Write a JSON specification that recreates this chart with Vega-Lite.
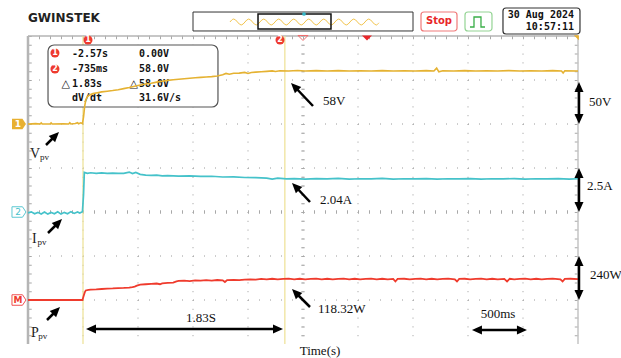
{
  "$schema": "https://vega.github.io/schema/vega-lite/v6.json",
  "width": 550,
  "height": 308,
  "autosize": {"type": "none"},
  "padding": {"left": 28, "top": 36, "right": 43, "bottom": 14},
  "background": "white",
  "config": {"view": {"stroke": null}},
  "datasets": {
    "vpv": [
      {"t":-3.07,"v":0},{"t":-3.0,"v":0.4},{"t":-2.96,"v":0},{"t":-2.95,"v":1.2},{"t":-2.94,"v":0},{"t":-2.87,"v":0},{"t":-2.86,"v":1.3},{"t":-2.85,"v":0},{"t":-2.75,"v":0.3},{"t":-2.7,"v":0},{"t":-2.69,"v":1.4},{"t":-2.68,"v":0},{"t":-2.64,"v":0.5},{"t":-2.62,"v":1.5},{"t":-2.61,"v":0.2},{"t":-2.59,"v":1.3},{"t":-2.575,"v":0.4},{"t":-2.565,"v":8},{"t":-2.555,"v":20},{"t":-2.545,"v":27},{"t":-2.53,"v":31},{"t":-2.51,"v":33},{"t":-2.48,"v":34.5},{"t":-2.44,"v":35.5},{"t":-2.4,"v":36.5},{"t":-2.35,"v":37.2},{"t":-2.3,"v":38},{"t":-2.25,"v":39},{"t":-2.2,"v":40.2},{"t":-2.15,"v":41.5},{"t":-2.1,"v":43},{"t":-2.05,"v":44.3},{"t":-2.0,"v":45.5},{"t":-1.95,"v":46.4},{"t":-1.9,"v":47.6},{"t":-1.85,"v":48.6},{"t":-1.8,"v":49.6},{"t":-1.75,"v":50.2},{"t":-1.7,"v":50.8},{"t":-1.65,"v":51.5},{"t":-1.6,"v":52},{"t":-1.55,"v":52.5},{"t":-1.5,"v":53},{"t":-1.45,"v":53.4},{"t":-1.4,"v":53.8},{"t":-1.35,"v":54.5},{"t":-1.3,"v":56},{"t":-1.27,"v":57.5},{"t":-1.24,"v":56.6},{"t":-1.2,"v":57.6},{"t":-1.15,"v":57.8},{"t":-1.1,"v":58.6},{"t":-1.07,"v":57.4},{"t":-1.04,"v":58.6},{"t":-1.0,"v":58.9},{"t":-0.95,"v":59.3},{"t":-0.9,"v":59.8},{"t":-0.85,"v":60.4},{"t":-0.82,"v":59.6},{"t":-0.78,"v":60.5},{"t":-0.7,"v":60.3},{"t":-0.62,"v":60.8},{"t":-0.55,"v":60.2},{"t":-0.45,"v":60.6},{"t":-0.35,"v":60.3},{"t":-0.25,"v":60.7},{"t":-0.15,"v":60.2},{"t":-0.05,"v":60.5},{"t":0.05,"v":60.2},{"t":0.15,"v":60.6},{"t":0.25,"v":60.3},{"t":0.35,"v":60.5},{"t":0.45,"v":60.2},{"t":0.55,"v":60.6},{"t":0.62,"v":60.3},{"t":0.645,"v":63.5},{"t":0.665,"v":59.3},{"t":0.7,"v":60.5},{"t":0.8,"v":60.2},{"t":0.9,"v":60.6},{"t":1.0,"v":60.3},{"t":1.1,"v":60.5},{"t":1.2,"v":60.2},{"t":1.3,"v":60.6},{"t":1.4,"v":60.3},{"t":1.5,"v":60.5},{"t":1.6,"v":60.2},{"t":1.7,"v":60.6},{"t":1.78,"v":60.3},{"t":1.795,"v":58},{"t":1.81,"v":60.4},{"t":1.93,"v":60.3}
    ],
    "ipv": [
      {"t":-3.07,"a":-0.05},{"t":-3.04,"a":0.01},{"t":-3.01,"a":-0.1},{"t":-2.98,"a":-0.02},{"t":-2.95,"a":-0.11},{"t":-2.92,"a":0.0},{"t":-2.89,"a":-0.12},{"t":-2.86,"a":-0.03},{"t":-2.83,"a":-0.1},{"t":-2.8,"a":0.01},{"t":-2.77,"a":-0.12},{"t":-2.74,"a":-0.02},{"t":-2.71,"a":-0.1},{"t":-2.68,"a":0.02},{"t":-2.65,"a":-0.08},{"t":-2.62,"a":0.0},{"t":-2.6,"a":-0.06},{"t":-2.575,"a":0.02},{"t":-2.565,"a":1.0},{"t":-2.558,"a":2.25},{"t":-2.53,"a":2.2},{"t":-2.5,"a":2.23},{"t":-2.45,"a":2.19},{"t":-2.4,"a":2.22},{"t":-2.35,"a":2.2},{"t":-2.3,"a":2.21},{"t":-2.25,"a":2.19},{"t":-2.2,"a":2.2},{"t":-2.15,"a":2.27},{"t":-2.12,"a":2.18},{"t":-2.09,"a":2.25},{"t":-2.05,"a":2.14},{"t":-2.0,"a":2.1},{"t":-1.95,"a":2.08},{"t":-1.9,"a":2.1},{"t":-1.85,"a":2.05},{"t":-1.8,"a":2.07},{"t":-1.7,"a":2.04},{"t":-1.6,"a":2.05},{"t":-1.5,"a":2.02},{"t":-1.4,"a":2.03},{"t":-1.3,"a":1.99},{"t":-1.2,"a":2.0},{"t":-1.1,"a":1.96},{"t":-1.0,"a":1.95},{"t":-0.9,"a":1.92},{"t":-0.85,"a":1.87},{"t":-0.8,"a":1.92},{"t":-0.72,"a":1.88},{"t":-0.65,"a":1.9},{"t":-0.55,"a":1.87},{"t":-0.45,"a":1.9},{"t":-0.35,"a":1.88},{"t":-0.25,"a":1.91},{"t":-0.15,"a":1.87},{"t":-0.05,"a":1.89},{"t":0.05,"a":1.88},{"t":0.15,"a":1.91},{"t":0.25,"a":1.87},{"t":0.35,"a":1.89},{"t":0.45,"a":1.88},{"t":0.55,"a":1.9},{"t":0.65,"a":1.87},{"t":0.75,"a":1.89},{"t":0.85,"a":1.88},{"t":0.95,"a":1.9},{"t":1.05,"a":1.87},{"t":1.15,"a":1.89},{"t":1.25,"a":1.88},{"t":1.35,"a":1.9},{"t":1.45,"a":1.87},{"t":1.55,"a":1.89},{"t":1.65,"a":1.88},{"t":1.75,"a":1.9},{"t":1.85,"a":1.87},{"t":1.93,"a":1.89}
    ],
    "ppv": [
      {"t":-3.07,"w":0},{"t":-2.575,"w":0},{"t":-2.565,"w":20},{"t":-2.555,"w":40},{"t":-2.545,"w":52},{"t":-2.52,"w":55},{"t":-2.5,"w":57},{"t":-2.45,"w":58},{"t":-2.4,"w":60},{"t":-2.35,"w":62},{"t":-2.3,"w":63},{"t":-2.25,"w":65},{"t":-2.2,"w":66},{"t":-2.15,"w":68},{"t":-2.12,"w":70},{"t":-2.1,"w":73},{"t":-2.08,"w":78},{"t":-2.05,"w":84},{"t":-2.0,"w":86},{"t":-1.95,"w":88},{"t":-1.9,"w":90},{"t":-1.87,"w":86},{"t":-1.85,"w":91},{"t":-1.8,"w":93},{"t":-1.75,"w":95},{"t":-1.72,"w":102},{"t":-1.7,"w":104},{"t":-1.65,"w":106},{"t":-1.6,"w":103},{"t":-1.55,"w":107},{"t":-1.5,"w":106},{"t":-1.45,"w":108},{"t":-1.4,"w":106},{"t":-1.35,"w":109},{"t":-1.3,"w":107},{"t":-1.28,"w":98},{"t":-1.26,"w":109},{"t":-1.2,"w":110},{"t":-1.15,"w":108},{"t":-1.1,"w":111},{"t":-1.05,"w":113},{"t":-1.0,"w":111},{"t":-0.95,"w":115},{"t":-0.9,"w":112},{"t":-0.85,"w":116},{"t":-0.8,"w":113},{"t":-0.75,"w":115},{"t":-0.7,"w":117},{"t":-0.65,"w":113},{"t":-0.6,"w":116},{"t":-0.55,"w":112},{"t":-0.5,"w":115},{"t":-0.45,"w":117},{"t":-0.4,"w":113},{"t":-0.35,"w":116},{"t":-0.3,"w":112},{"t":-0.25,"w":115},{"t":-0.2,"w":117},{"t":-0.15,"w":113},{"t":-0.1,"w":116},{"t":-0.05,"w":112},{"t":0.0,"w":115},{"t":0.05,"w":117},{"t":0.1,"w":113},{"t":0.15,"w":116},{"t":0.2,"w":113},{"t":0.25,"w":115},{"t":0.27,"w":101},{"t":0.29,"w":115},{"t":0.35,"w":116},{"t":0.4,"w":112},{"t":0.45,"w":115},{"t":0.5,"w":117},{"t":0.55,"w":113},{"t":0.6,"w":116},{"t":0.65,"w":112},{"t":0.7,"w":115},{"t":0.75,"w":117},{"t":0.81,"w":113},{"t":0.83,"w":101},{"t":0.85,"w":115},{"t":0.9,"w":116},{"t":0.95,"w":112},{"t":1.0,"w":115},{"t":1.05,"w":117},{"t":1.1,"w":113},{"t":1.15,"w":116},{"t":1.2,"w":112},{"t":1.26,"w":115},{"t":1.285,"w":101},{"t":1.31,"w":116},{"t":1.35,"w":113},{"t":1.4,"w":115},{"t":1.45,"w":117},{"t":1.5,"w":113},{"t":1.55,"w":116},{"t":1.6,"w":112},{"t":1.65,"w":115},{"t":1.7,"w":117},{"t":1.77,"w":113},{"t":1.79,"w":101},{"t":1.81,"w":115},{"t":1.86,"w":116},{"t":1.93,"w":114}
    ]
  },
  "encoding": {
    "x": {"field": "t", "type": "quantitative", "scale": {"domain": [-3.07, 1.93], "nice": false, "zero": false}, "axis": null}
  },
  "layer": [
    {"data": {"values": [{"t":-2.57},{"t":-2.07},{"t":-1.57},{"t":-1.07},{"t":-0.57},{"t":-0.07},{"t":0.43},{"t":0.93},{"t":1.43}]},
     "mark": {"type": "rule", "color": "#9a9a9a", "strokeWidth": 1, "strokeDash": [1, 7.8]}, "encoding": {}},
    {"data": {"values": [{"t":-3.07,"t2":1.93,"d":1},{"t":-3.07,"t2":1.93,"d":2},{"t":-3.07,"t2":1.93,"d":3},{"t":-3.07,"t2":1.93,"d":4},{"t":-3.07,"t2":1.93,"d":5},{"t":-3.07,"t2":1.93,"d":6}]},
     "mark": {"type": "rule", "color": "#9a9a9a", "strokeWidth": 1, "strokeDash": [1, 10]},
     "encoding": {"x2": {"field": "t2"}, "y": {"field": "d", "type": "quantitative", "scale": {"domain": [0, 7], "nice": false, "zero": false}, "axis": null}}},
    {"data": {"values": [{"t":-0.57},{"t":-3.0518},{"t":1.9164}]},
     "mark": {"type": "rule", "color": "#a8a8a8", "strokeWidth": 3.5, "strokeDash": [1, 7.8]}, "encoding": {}},
    {"data": {"values": [{"t":-3.07,"t2":1.93,"d":3},{"t":-3.07,"t2":1.93,"d":6.966}]},
     "mark": {"type": "rule", "color": "#a8a8a8", "strokeWidth": 3.5, "strokeDash": [1, 10]},
     "encoding": {"x2": {"field": "t2"}, "y": {"field": "d", "type": "quantitative", "scale": {"domain": [0, 7], "nice": false, "zero": false}, "axis": null}}},
    {"data": {"values": [{"t":-3.07}]},
     "mark": {"type": "rule", "color": "#b5b5b5", "strokeWidth": 2.5}, "encoding": {}},
    {"data": {"values": [{"t":1.93}]},
     "mark": {"type": "rule", "color": "#c4c4c4", "strokeWidth": 1.5}, "encoding": {}},
    {"data": {"values": [{"t":-3.07,"t2":1.93,"d":7}]},
     "mark": {"type": "rule", "color": "#b5b5b5", "strokeWidth": 1.5},
     "encoding": {"x2": {"field": "t2"}, "y": {"field": "d", "type": "quantitative", "scale": {"domain": [0, 7], "nice": false, "zero": false}, "axis": null}}},
    {"data": {"values": [{"t":-2.57},{"t":-0.735}]},
     "mark": {"type": "rule", "color": "#efe39c", "strokeWidth": 1.3}, "encoding": {}},
    {"data": {"values": [{"t":-2.888,"t2":-1.343,"d":6.795,"d2":5.386}]},
     "mark": {"type": "rect", "fill": "white", "stroke": "#555555", "strokeWidth": 1.2, "cornerRadius": 6, "clip": false},
     "encoding": {"x2": {"field": "t2"}, "y": {"field": "d", "type": "quantitative", "scale": {"domain": [0, 7], "nice": false, "zero": false}, "axis": null}, "y2": {"field": "d2"}}},
    {"data": {"name": "ipv"},
     "mark": {"type": "line", "color": "#45c2ca", "strokeWidth": 1.7, "clip": false},
     "encoding": {"y": {"field": "a", "type": "quantitative", "scale": {"domain": [-7.5, 10], "nice": false, "zero": false}, "axis": null}}},
    {"data": {"name": "ppv"},
     "mark": {"type": "line", "color": "#ef3b2d", "strokeWidth": 1.8, "clip": false},
     "encoding": {"y": {"field": "w", "type": "quantitative", "scale": {"domain": [-240, 1440], "nice": false, "zero": false}, "axis": null}}},
    {"data": {"values": [
       {"t":-2.67,"d":6.602,"label":"-2.57s"},{"t":-2.061,"d":6.602,"label":"0.00V"},
       {"t":-2.67,"d":6.261,"label":"-735ms"},{"t":-2.061,"d":6.261,"label":"58.0V"},
       {"t":-2.67,"d":5.92,"label":"1.83s"},{"t":-2.061,"d":5.92,"label":"58.0V"},
       {"t":-2.67,"d":5.58,"label":"dV/dt"},{"t":-2.061,"d":5.58,"label":"31.6V/s"}]},
     "mark": {"type": "text", "font": "DejaVu Sans Mono", "fontWeight": "bold", "fontSize": 10, "align": "left", "baseline": "middle", "color": "#111111", "clip": false},
     "encoding": {"y": {"field": "d", "type": "quantitative", "scale": {"domain": [0, 7], "nice": false, "zero": false}, "axis": null}, "text": {"field": "label"}}},
    {"data": {"values": [{"t":-2.727,"d":5.92,"label":"△"},{"t":-2.109,"d":5.92,"label":"△"}]},
     "mark": {"type": "text", "font": "DejaVu Sans", "fontSize": 11, "align": "center", "baseline": "middle", "color": "#111111", "clip": false},
     "encoding": {"y": {"field": "d", "type": "quantitative", "scale": {"domain": [0, 7], "nice": false, "zero": false}, "axis": null}, "text": {"field": "label"}}},
    {"data": {"name": "vpv"},
     "mark": {"type": "line", "color": "#e5b232", "strokeWidth": 1.6, "clip": false},
     "encoding": {"y": {"field": "v", "type": "quantitative", "scale": {"domain": [-250, 100], "nice": false, "zero": false}, "axis": null}}},
    {"data": {"values": [{"t":-2.5245,"d":6.909},{"t":-0.779,"d":6.909},{"t":-2.825,"d":6.614},{"t":-2.825,"d":6.25}]},
     "mark": {"type": "point", "shape": "circle", "filled": true, "color": "#ee3a2e", "size": 81, "opacity": 1, "clip": false},
     "encoding": {"y": {"field": "d", "type": "quantitative", "scale": {"domain": [0, 7], "nice": false, "zero": false}, "axis": null}}},
    {"data": {"values": [{"t":-2.5245,"d":6.909,"label":"1"},{"t":-0.779,"d":6.909,"label":"2"},{"t":-2.825,"d":6.614,"label":"1"},{"t":-2.825,"d":6.25,"label":"2"}]},
     "mark": {"type": "text", "font": "DejaVu Sans", "fontWeight": "bold", "fontSize": 8, "align": "center", "baseline": "middle", "color": "white", "clip": false},
     "encoding": {"y": {"field": "d", "type": "quantitative", "scale": {"domain": [0, 7], "nice": false, "zero": false}, "axis": null}, "text": {"field": "label"}}},
    {"data": {"values": [{"t":-0.57,"d":6.955}]},
     "mark": {"type": "point", "shape": "M-1,-0.5L1,-0.5L0,0.5Z", "filled": false, "stroke": "#f06a6a", "strokeWidth": 1, "size": 100, "opacity": 1, "clip": false},
     "encoding": {"y": {"field": "d", "type": "quantitative", "scale": {"domain": [0, 7], "nice": false, "zero": false}, "axis": null}}},
    {"data": {"values": [{"t":0.0118,"d":6.955}]},
     "mark": {"type": "point", "shape": "M-1,-0.5L1,-0.5L0,0.5Z", "filled": true, "color": "#e8262a", "size": 100, "opacity": 1, "clip": false},
     "encoding": {"y": {"field": "d", "type": "quantitative", "scale": {"domain": [0, 7], "nice": false, "zero": false}, "axis": null}}},
    {"data": {"values": [{"t":1.915,"d":6.96}]},
     "mark": {"type": "point", "shape": "M-1,-1L1,-1L1,1Z", "filled": true, "color": "#e8b030", "size": 25, "opacity": 1, "clip": false},
     "encoding": {"y": {"field": "d", "type": "quantitative", "scale": {"domain": [0, 7], "nice": false, "zero": false}, "axis": null}}},
    {"data": {"values": [{"t":-1.57,"t2":0.43,"d":7.545,"d2":7.114}]},
     "mark": {"type": "rect", "fill": "white", "stroke": "#333333", "strokeWidth": 1, "clip": false},
     "encoding": {"x2": {"field": "t2"}, "y": {"field": "d", "type": "quantitative", "scale": {"domain": [0, 7], "nice": false, "zero": false}, "axis": null}, "y2": {"field": "d2"}}},
    {"data": {"values": [
       {"t":-1.234,"d":7.318},{"t":-1.2,"d":7.386},{"t":-1.1317,"d":7.25},{"t":-1.0635,"d":7.386},{"t":-0.9953,"d":7.25},{"t":-0.9271,"d":7.386},{"t":-0.8589,"d":7.25},{"t":-0.7907,"d":7.386},{"t":-0.7225,"d":7.25},{"t":-0.6543,"d":7.386},{"t":-0.5861,"d":7.25},{"t":-0.5179,"d":7.386},{"t":-0.4497,"d":7.25},{"t":-0.3815,"d":7.386},{"t":-0.3133,"d":7.25},{"t":-0.2451,"d":7.386},{"t":-0.1769,"d":7.25},{"t":-0.1087,"d":7.386},{"t":-0.0405,"d":7.25},{"t":0.0277,"d":7.386},{"t":0.0959,"d":7.25},{"t":0.12,"d":7.3}]},
     "mark": {"type": "line", "color": "#f2c44e", "strokeWidth": 1, "interpolate": "monotone", "clip": false},
     "encoding": {"y": {"field": "d", "type": "quantitative", "scale": {"domain": [0, 7], "nice": false, "zero": false}, "axis": null}}},
    {"data": {"values": [{"t":-0.979,"t2":-0.3155,"d":7.5,"d2":7.159}]},
     "mark": {"type": "rect", "fillOpacity": 0, "stroke": "#111111", "strokeWidth": 1.5, "clip": false},
     "encoding": {"x2": {"field": "t2"}, "y": {"field": "d", "type": "quantitative", "scale": {"domain": [0, 7], "nice": false, "zero": false}, "axis": null}, "y2": {"field": "d2"}}},
    {"data": {"values": [{"t":-0.561,"d":7.5}]},
     "mark": {"type": "point", "shape": "circle", "filled": true, "color": "#35b8c8", "size": 14, "opacity": 1, "clip": false},
     "encoding": {"y": {"field": "d", "type": "quantitative", "scale": {"domain": [0, 7], "nice": false, "zero": false}, "axis": null}}},
    {"data": {"values": [{"t":0.5027,"t2":0.83,"d":7.545,"d2":7.114}]},
     "mark": {"type": "rect", "fill": "white", "stroke": "#f07a7a", "strokeWidth": 1.2, "cornerRadius": 3, "clip": false},
     "encoding": {"x2": {"field": "t2"}, "y": {"field": "d", "type": "quantitative", "scale": {"domain": [0, 7], "nice": false, "zero": false}, "axis": null}, "y2": {"field": "d2"}}},
    {"data": {"values": [{"t":0.9027,"t2":1.148,"d":7.545,"d2":7.114}]},
     "mark": {"type": "rect", "fill": "white", "stroke": "#94d494", "strokeWidth": 1.2, "cornerRadius": 3, "clip": false},
     "encoding": {"x2": {"field": "t2"}, "y": {"field": "d", "type": "quantitative", "scale": {"domain": [0, 7], "nice": false, "zero": false}, "axis": null}, "y2": {"field": "d2"}}},
    {"data": {"values": [{"i":0,"t":0.948,"d":7.205},{"i":1,"t":0.9845,"d":7.205},{"i":2,"t":0.9845,"d":7.432},{"i":3,"t":1.048,"d":7.432},{"i":4,"t":1.048,"d":7.205},{"i":5,"t":1.0845,"d":7.205}]},
     "mark": {"type": "line", "color": "#3aae48", "strokeWidth": 1.3, "clip": false},
     "encoding": {"y": {"field": "d", "type": "quantitative", "scale": {"domain": [0, 7], "nice": false, "zero": false}, "axis": null}, "order": {"field": "i", "type": "quantitative"}}},
    {"data": {"values": [{"t":1.248,"t2":1.948,"d":7.636,"d2":7.045}]},
     "mark": {"type": "rect", "fill": "white", "stroke": "#333333", "strokeWidth": 1.2, "cornerRadius": 3, "clip": false},
     "encoding": {"x2": {"field": "t2"}, "y": {"field": "d", "type": "quantitative", "scale": {"domain": [0, 7], "nice": false, "zero": false}, "axis": null}, "y2": {"field": "d2"}}},
    {"data": {"values": [{"t":-3.07,"d":7.409,"label":"GWINSTEK"}]},
     "mark": {"type": "text", "font": "DejaVu Sans", "fontWeight": "bold", "fontSize": 12, "align": "left", "baseline": "middle", "color": "#222222", "clip": false},
     "encoding": {"y": {"field": "d", "type": "quantitative", "scale": {"domain": [0, 7], "nice": false, "zero": false}, "axis": null}, "text": {"field": "label"}}},
    {"data": {"values": [{"t":0.666,"d":7.33,"label":"Stop"}]},
     "mark": {"type": "text", "font": "DejaVu Sans", "fontWeight": "bold", "fontSize": 10, "align": "center", "baseline": "middle", "color": "#e8262a", "clip": false},
     "encoding": {"y": {"field": "d", "type": "quantitative", "scale": {"domain": [0, 7], "nice": false, "zero": false}, "axis": null}, "text": {"field": "label"}}},
    {"data": {"values": [{"t":1.8936,"d":7.477,"label":"30 Aug 2024"},{"t":1.8936,"d":7.205,"label":"10:57:11"}]},
     "mark": {"type": "text", "font": "DejaVu Sans Mono", "fontWeight": "bold", "fontSize": 10, "align": "right", "baseline": "middle", "color": "#111111", "clip": false},
     "encoding": {"y": {"field": "d", "type": "quantitative", "scale": {"domain": [0, 7], "nice": false, "zero": false}, "axis": null}, "text": {"field": "label"}}},
    {"data": {"values": [{"t":-3.152,"d":5}]},
     "mark": {"type": "point", "shape": "M-1,-0.75L0.5,-0.75L1,0L0.5,0.75L-1,0.75Z", "filled": true, "color": "#e8b030", "size": 196, "opacity": 1, "clip": false},
     "encoding": {"y": {"field": "d", "type": "quantitative", "scale": {"domain": [0, 7], "nice": false, "zero": false}, "axis": null}}},
    {"data": {"values": [{"t":-3.152,"d":3}]},
     "mark": {"type": "point", "shape": "M-1,-0.75L0.5,-0.75L1,0L0.5,0.75L-1,0.75Z", "filled": true, "fill": "white", "stroke": "#5cc8d2", "strokeWidth": 1, "size": 196, "opacity": 1, "clip": false},
     "encoding": {"y": {"field": "d", "type": "quantitative", "scale": {"domain": [0, 7], "nice": false, "zero": false}, "axis": null}}},
    {"data": {"values": [{"t":-3.152,"d":1}]},
     "mark": {"type": "point", "shape": "M-1,-0.75L0.5,-0.75L1,0L0.5,0.75L-1,0.75Z", "filled": true, "fill": "white", "stroke": "#f05050", "strokeWidth": 1, "size": 196, "opacity": 1, "clip": false},
     "encoding": {"y": {"field": "d", "type": "quantitative", "scale": {"domain": [0, 7], "nice": false, "zero": false}, "axis": null}}},
    {"data": {"values": [{"t":-3.161,"d":5,"label":"1"}]},
     "mark": {"type": "text", "font": "DejaVu Sans", "fontWeight": "bold", "fontSize": 9, "align": "center", "baseline": "middle", "color": "white", "clip": false},
     "encoding": {"y": {"field": "d", "type": "quantitative", "scale": {"domain": [0, 7], "nice": false, "zero": false}, "axis": null}, "text": {"field": "label"}}},
    {"data": {"values": [{"t":-3.161,"d":3,"label":"2"}]},
     "mark": {"type": "text", "font": "DejaVu Sans", "fontSize": 9, "align": "center", "baseline": "middle", "color": "#45c2ca", "clip": false},
     "encoding": {"y": {"field": "d", "type": "quantitative", "scale": {"domain": [0, 7], "nice": false, "zero": false}, "axis": null}, "text": {"field": "label"}}},
    {"data": {"values": [{"t":-3.161,"d":1,"label":"M"}]},
     "mark": {"type": "text", "font": "DejaVu Sans", "fontWeight": "bold", "fontSize": 9, "align": "center", "baseline": "middle", "color": "#ef3b2d", "clip": false},
     "encoding": {"y": {"field": "d", "type": "quantitative", "scale": {"domain": [0, 7], "nice": false, "zero": false}, "axis": null}, "text": {"field": "label"}}},
    {"data": {"values": [{"t":-3.052,"d":4.227,"label":"V"},{"t":-3.0336,"d":2.295,"label":"I"},{"t":-3.0427,"d":0.159,"label":"P"}]},
     "mark": {"type": "text", "font": "Liberation Serif", "fontSize": 14, "align": "left", "baseline": "alphabetic", "color": "#222222", "clip": false},
     "encoding": {"y": {"field": "d", "type": "quantitative", "scale": {"domain": [0, 7], "nice": false, "zero": false}, "axis": null}, "text": {"field": "label"}}},
    {"data": {"values": [{"t":-2.961,"d":4.182,"label":"pv"},{"t":-2.9836,"d":2.25,"label":"pv"},{"t":-2.976,"d":0.114,"label":"pv"}]},
     "mark": {"type": "text", "font": "Liberation Serif", "fontSize": 9, "align": "left", "baseline": "alphabetic", "color": "#222222", "clip": false},
     "encoding": {"y": {"field": "d", "type": "quantitative", "scale": {"domain": [0, 7], "nice": false, "zero": false}, "axis": null}, "text": {"field": "label"}}},
    {"data": {"values": [{"t":-0.3882,"d":5.432,"label":"58V"},{"t":-0.4155,"d":3.182,"label":"2.04A"},{"t":-0.4336,"d":0.7045,"label":"118.32W"},{"t":2.03,"d":5.409,"label":"50V"},{"t":2.0118,"d":3.5,"label":"2.5A"},{"t":2.039,"d":1.477,"label":"240W"}]},
     "mark": {"type": "text", "font": "Liberation Serif", "fontSize": 13, "align": "left", "baseline": "alphabetic", "color": "#111111", "clip": false},
     "encoding": {"y": {"field": "d", "type": "quantitative", "scale": {"domain": [0, 7], "nice": false, "zero": false}, "axis": null}, "text": {"field": "label"}}},
    {"data": {"values": [{"t":-1.4973,"d":0.5,"label":"1.83S"},{"t":1.2027,"d":0.591,"label":"500ms"},{"t":-0.4155,"d":-0.25,"label":"Time(s)"}]},
     "mark": {"type": "text", "font": "Liberation Serif", "fontSize": 13, "align": "center", "baseline": "alphabetic", "color": "#111111", "clip": false},
     "encoding": {"y": {"field": "d", "type": "quantitative", "scale": {"domain": [0, 7], "nice": false, "zero": false}, "axis": null}, "text": {"field": "label"}}},
    {"data": {"values": [
       {"t":-2.9064,"d":4.5227,"t2":-2.82,"d2":4.7386},
       {"t":-2.8882,"d":2.5227,"t2":-2.7927,"d2":2.7614},
       {"t":-2.8973,"d":0.5455,"t2":-2.8109,"d2":0.7614},
       {"t":-0.4791,"d":5.409,"t2":-0.6473,"d2":5.8523},
       {"t":-0.5064,"d":3.227,"t2":-0.6382,"d2":3.5795},
       {"t":-0.5064,"d":0.8409,"t2":-0.6382,"d2":1.1705},
       {"t":1.939,"d":5.114,"t2":1.939,"d2":5.841},
       {"t":1.939,"d":3.1136,"t2":1.939,"d2":3.886},
       {"t":1.939,"d":1.1136,"t2":1.939,"d2":1.886},
       {"t":-2.4973,"d":0.3409,"t2":-0.7973,"d2":0.3409},
       {"t":1.0118,"d":0.318,"t2":1.4209,"d2":0.318}]},
     "mark": {"type": "rule", "color": "black", "strokeWidth": 2.5, "clip": false},
     "encoding": {"x2": {"field": "t2"}, "y": {"field": "d", "type": "quantitative", "scale": {"domain": [0, 7], "nice": false, "zero": false}, "axis": null}, "y2": {"field": "d2"}}},
    {"data": {"values": [{"t":-2.7882,"d":4.818},{"t":-2.7609,"d":2.8409},{"t":-2.779,"d":0.8409}]},
     "mark": {"type": "point", "shape": "M0,0L0.9,2L-0.9,2Z", "filled": true, "color": "black", "size": 100, "opacity": 1, "angle": 45, "clip": false},
     "encoding": {"y": {"field": "d", "type": "quantitative", "scale": {"domain": [0, 7], "nice": false, "zero": false}, "axis": null}}},
    {"data": {"values": [{"t":-0.6791,"d":5.932},{"t":-0.67,"d":3.659},{"t":-0.67,"d":1.25}]},
     "mark": {"type": "point", "shape": "M0,0L0.9,2L-0.9,2Z", "filled": true, "color": "black", "size": 100, "opacity": 1, "angle": 315, "clip": false},
     "encoding": {"y": {"field": "d", "type": "quantitative", "scale": {"domain": [0, 7], "nice": false, "zero": false}, "axis": null}}},
    {"data": {"values": [{"t":1.939,"d":5.9545},{"t":1.939,"d":4.0},{"t":1.939,"d":2.0}]},
     "mark": {"type": "point", "shape": "M0,0L0.9,2L-0.9,2Z", "filled": true, "color": "black", "size": 100, "opacity": 1, "angle": 0, "clip": false},
     "encoding": {"y": {"field": "d", "type": "quantitative", "scale": {"domain": [0, 7], "nice": false, "zero": false}, "axis": null}}},
    {"data": {"values": [{"t":1.939,"d":5.0},{"t":1.939,"d":3.0},{"t":1.939,"d":1.0}]},
     "mark": {"type": "point", "shape": "M0,0L0.9,2L-0.9,2Z", "filled": true, "color": "black", "size": 100, "opacity": 1, "angle": 180, "clip": false},
     "encoding": {"y": {"field": "d", "type": "quantitative", "scale": {"domain": [0, 7], "nice": false, "zero": false}, "axis": null}}},
    {"data": {"values": [{"t":-2.5427,"d":0.3409},{"t":0.966,"d":0.318}]},
     "mark": {"type": "point", "shape": "M0,0L0.9,2L-0.9,2Z", "filled": true, "color": "black", "size": 100, "opacity": 1, "angle": 270, "clip": false},
     "encoding": {"y": {"field": "d", "type": "quantitative", "scale": {"domain": [0, 7], "nice": false, "zero": false}, "axis": null}}},
    {"data": {"values": [{"t":-0.7518,"d":0.3409},{"t":1.466,"d":0.318}]},
     "mark": {"type": "point", "shape": "M0,0L0.9,2L-0.9,2Z", "filled": true, "color": "black", "size": 100, "opacity": 1, "angle": 90, "clip": false},
     "encoding": {"y": {"field": "d", "type": "quantitative", "scale": {"domain": [0, 7], "nice": false, "zero": false}, "axis": null}}}
  ],
  "resolve": {"scale": {"y": "independent"}}
}
